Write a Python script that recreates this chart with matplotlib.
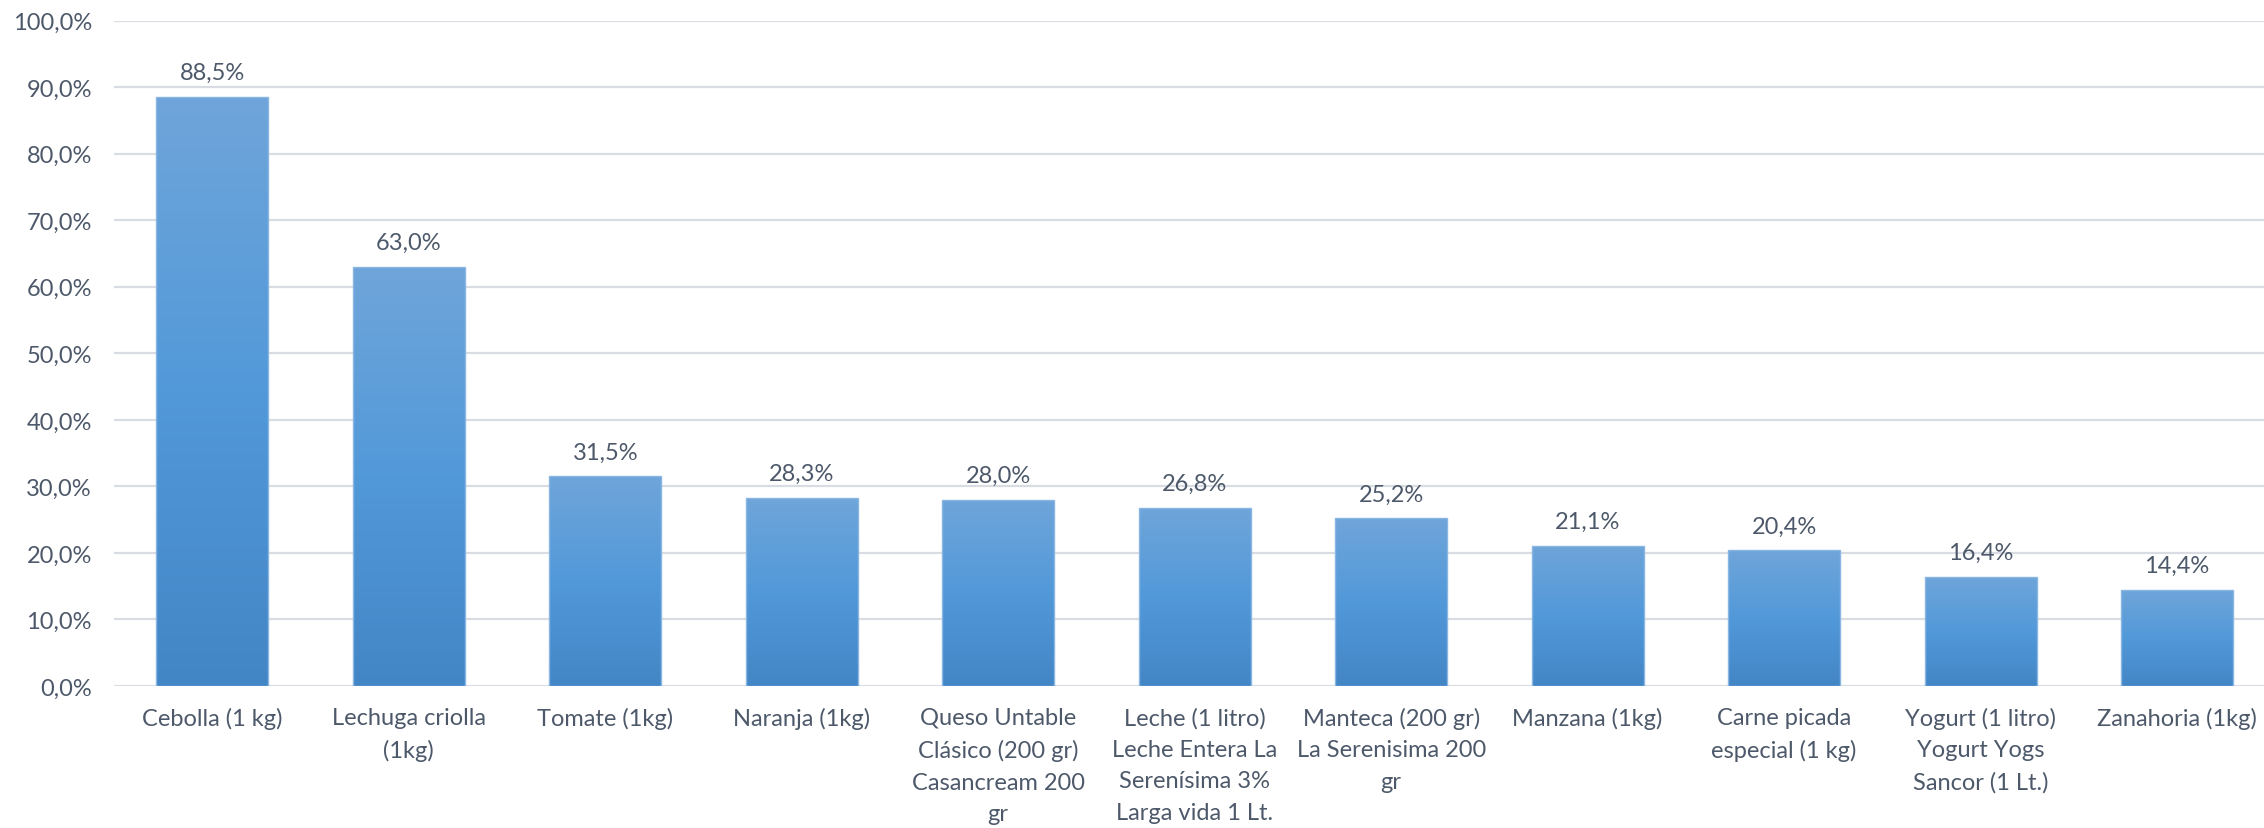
"""
Variación de precios por producto (gráfico de barras estilo Excel).
"""
import numpy as np
import matplotlib
matplotlib.use('Agg')
import matplotlib.pyplot as plt
from matplotlib.colors import LinearSegmentedColormap
from matplotlib.ticker import FuncFormatter

productos = [
    'Cebolla (1 kg)',
    'Lechuga criolla\n(1kg)',
    'Tomate (1kg)',
    'Naranja (1kg)',
    'Queso Untable\nClásico (200 gr)\nCasancream 200\ngr',
    'Leche (1 litro)\nLeche Entera La\nSerenísima 3%\nLarga vida 1 Lt.',
    'Manteca (200 gr)\nLa Serenisima 200\ngr',
    'Manzana (1kg)',
    'Carne picada\nespecial (1 kg)',
    'Yogurt (1 litro)\nYogurt Yogs\nSancor (1 Lt.)',
    'Zanahoria (1kg)',
]
variacion = [88.5, 63.0, 31.5, 28.3, 28.0, 26.8, 25.2, 21.1, 20.4, 16.4, 14.4]

TEXTO = '#4d596a'
GRILLA = '#d9dde3'
TAM = 17

plt.rcParams['font.family'] = ['Lato', 'DejaVu Sans']

fig = plt.figure(figsize=(22.64, 8.29), dpi=100)
ax = fig.add_axes([0.0504, 0.1713, 0.9546, 0.8025])

x = np.arange(len(productos))
barras = ax.bar(x, variacion, width=0.57, color='none', edgecolor='#8ab6e2',
                linewidth=1.0, zorder=3)

# degradado vertical dentro de cada barra (claro arriba, oscuro abajo)
cmap = LinearSegmentedColormap.from_list(
    'excel', ['#4386c6', '#5299d9', '#6fa5da'])
grad = np.linspace(0, 1, 256).reshape(-1, 1)
for b in barras:
    x0, w, h = b.get_x(), b.get_width(), b.get_height()
    im = ax.imshow(grad, cmap=cmap, origin='lower', aspect='auto',
                   extent=(x0, x0 + w, 0, h), zorder=2)
    im.set_clip_path(b)

for xi, v in zip(x, variacion):
    ax.annotate(f'{v:.1f}%'.replace('.', ','), (xi, v), xytext=(0, 10),
                textcoords='offset points', ha='center', va='bottom',
                fontsize=TAM, color=TEXTO)

ax.set_xlim(-0.5, len(productos) - 0.5)
ax.set_ylim(0, 100)
ax.set_yticks(np.arange(0, 101, 10))
ax.yaxis.set_major_formatter(
    FuncFormatter(lambda v, _: f'{v:.1f}%'.replace('.', ',')))
ax.set_xticks(x)
ax.set_xticklabels(productos, linespacing=1.62)
ax.tick_params(axis='both', length=0, labelsize=TAM, labelcolor=TEXTO)
ax.tick_params(axis='y', pad=16)
ax.tick_params(axis='x', pad=15)

ax.grid(axis='y', color=GRILLA, linewidth=1.6, zorder=0)
ax.set_axisbelow(True)
for s in ax.spines.values():
    s.set_visible(False)

fig.savefig('out.png', dpi=100)
